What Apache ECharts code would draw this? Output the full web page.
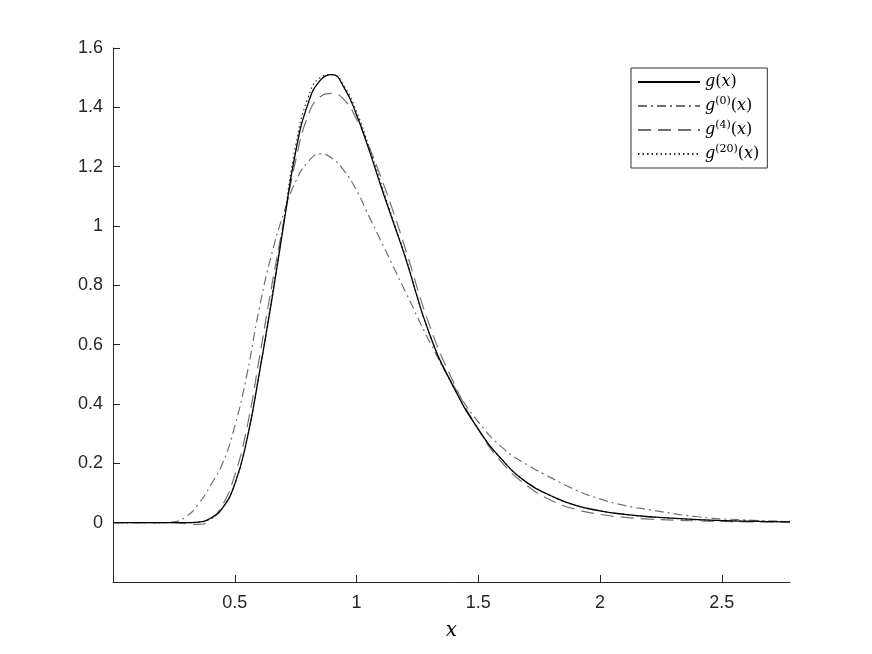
<!DOCTYPE html>
<html>
<head>
<meta charset="utf-8">
<title>g(x)</title>
<script src="https://cdn.jsdelivr.net/npm/echarts@6/dist/echarts.min.js"></script>
<style>
  html, body { margin: 0; padding: 0; background: #fff; }
  #chart { width: 872px; height: 654px; }
</style>
</head>
<body>
<div id="chart"></div>
<script>
var xs = [0, 0.1, 0.2, 0.25, 0.3, 0.35, 0.4, 0.45, 0.5, 0.55, 0.6, 0.65, 0.7, 0.75, 0.8, 0.85, 0.9, 0.95,
          1.0, 1.05, 1.1, 1.15, 1.2, 1.3, 1.4, 1.5, 1.6, 1.7, 1.8, 1.9, 2.0, 2.1, 2.2, 2.4, 2.6, 2.78];

var gExact = [0, 0, 0, 0, 0, 0.002, 0.015, 0.05, 0.13, 0.28, 0.5, 0.74, 1.0, 1.25, 1.41, 1.49, 1.51, 1.465,
              1.375, 1.26, 1.135, 1.015, 0.895, 0.635, 0.455, 0.315, 0.21, 0.135, 0.09, 0.058, 0.04, 0.028, 0.02, 0.01, 0.005, 0.003];
var g0 = [0, 0, 0, 0.003, 0.02, 0.062, 0.125, 0.2, 0.325, 0.5, 0.72, 0.9, 1.04, 1.15, 1.215, 1.243, 1.228, 1.185,
          1.12, 1.035, 0.95, 0.865, 0.78, 0.61, 0.46, 0.34, 0.252, 0.196, 0.151, 0.11, 0.08, 0.058, 0.044, 0.02, 0.009, 0.004];
var g4 = [0, 0, 0, 0, -0.003, -0.006, 0.01, 0.06, 0.16, 0.32, 0.55, 0.79, 1.01, 1.22, 1.37, 1.435, 1.447, 1.425,
          1.36, 1.27, 1.165, 1.05, 0.925, 0.665, 0.47, 0.315, 0.2, 0.125, 0.075, 0.045, 0.028, 0.018, 0.012, 0.006, 0.003, 0.002];
var g20 = [0, 0, 0, 0, 0, 0.002, 0.013, 0.05, 0.13, 0.28, 0.5, 0.75, 1.01, 1.27, 1.43, 1.5, 1.51, 1.47,
           1.385, 1.27, 1.145, 1.02, 0.9, 0.635, 0.455, 0.315, 0.21, 0.135, 0.09, 0.058, 0.04, 0.028, 0.02, 0.01, 0.005, 0.003];

var xTicks = [0.5, 1, 1.5, 2, 2.5];
var yTicks = [0, 0.2, 0.4, 0.6, 0.8, 1, 1.2, 1.4, 1.6];

function pairs(ys) {
    var out = [];
    for (var i = 0; i < xs.length; i++) {
        out.push([xs[i], ys[i]]);
    }
    return out;
}

// legend labels, g^(k)(x) with superscript
var legendText = {
    'g(x)': '{i|g}{n|(}{i|x}{n|)}',
    'g0': '{i|g}{s|(0)}{n|(}{i|x}{n|)}',
    'g4': '{i|g}{s|(4)}{n|(}{i|x}{n|)}',
    'g20': '{i|g}{s|(20)}{n|(}{i|x}{n|)}'
};

var axisColor = '#262626';
var serif = 'DejaVu Serif';

var chart = echarts.init(document.getElementById('chart'));
chart.setOption({
    animation: false,
    backgroundColor: '#fff',
    grid: {
        left: 113,
        right: 82,
        top: 48,
        bottom: 72
    },
    legend: {
        orient: 'vertical',
        left: 631,
        top: 68,
        padding: [4, 8, 4, 6],
        itemGap: 4,
        itemWidth: 62,
        itemHeight: 14,
        borderColor: '#333',
        borderWidth: 1,
        backgroundColor: '#fff',
        itemStyle: { opacity: 0 },
        data: ['g(x)', 'g0', 'g4', 'g20'],
        formatter: function (name) {
            return legendText[name];
        },
        textStyle: {
            color: '#000',
            lineHeight: 20,
            rich: {
                i: { fontFamily: serif, fontStyle: 'italic', fontSize: 16, color: '#000' },
                n: { fontFamily: serif, fontSize: 16, color: '#000' },
                s: { fontFamily: serif, fontSize: 11, color: '#000', verticalAlign: 'top', lineHeight: 12 }
            }
        }
    },
    xAxis: {
        type: 'value',
        min: 0,
        max: 2.78,
        interval: 0.5,
        name: 'x',
        nameLocation: 'middle',
        nameGap: 39,
        nameTextStyle: {
            fontFamily: serif,
            fontStyle: 'italic',
            fontSize: 20,
            color: '#000'
        },
        axisLine: { onZero: false, lineStyle: { color: axisColor, width: 1 } },
        axisTick: { inside: true, length: 7, customValues: xTicks, lineStyle: { color: axisColor } },
        axisLabel: {
            margin: 12,
            fontFamily: 'Liberation Sans',
            fontSize: 18,
            color: axisColor,
            customValues: xTicks
        },
        splitLine: { show: false }
    },
    yAxis: {
        type: 'value',
        min: -0.2,
        max: 1.6,
        interval: 0.2,
        axisLine: { show: true, onZero: false, lineStyle: { color: axisColor, width: 1 } },
        axisTick: { show: true, inside: true, length: 7, customValues: yTicks, lineStyle: { color: axisColor } },
        axisLabel: {
            margin: 10,
            fontFamily: 'Liberation Sans',
            fontSize: 18,
            color: axisColor,
            customValues: yTicks
        },
        splitLine: { show: false }
    },
    series: [
        {
            name: 'g(x)',
            type: 'line',
            data: pairs(gExact),
            smooth: 0.5,
            symbol: 'none',
            z: 5,
            itemStyle: { color: 'rgba(0,0,0,0)' },
            lineStyle: { color: '#000', width: 1.3, type: 'solid' }
        },
        {
            name: 'g0',
            type: 'line',
            data: pairs(g0),
            smooth: 0.5,
            symbol: 'none',
            itemStyle: { color: 'rgba(0,0,0,0)' },
            lineStyle: { color: '#707070', width: 1.2, type: [9, 4, 2, 4] }
        },
        {
            name: 'g4',
            type: 'line',
            data: pairs(g4),
            smooth: 0.5,
            symbol: 'none',
            itemStyle: { color: 'rgba(0,0,0,0)' },
            lineStyle: { color: '#707070', width: 1.2, type: [13, 7] }
        },
        {
            name: 'g20',
            type: 'line',
            data: pairs(g20),
            smooth: 0.5,
            symbol: 'none',
            itemStyle: { color: 'rgba(0,0,0,0)' },
            lineStyle: { color: '#333', width: 1.2, type: [1.5, 3] }
        }
    ]
});
</script>
</body>
</html>
